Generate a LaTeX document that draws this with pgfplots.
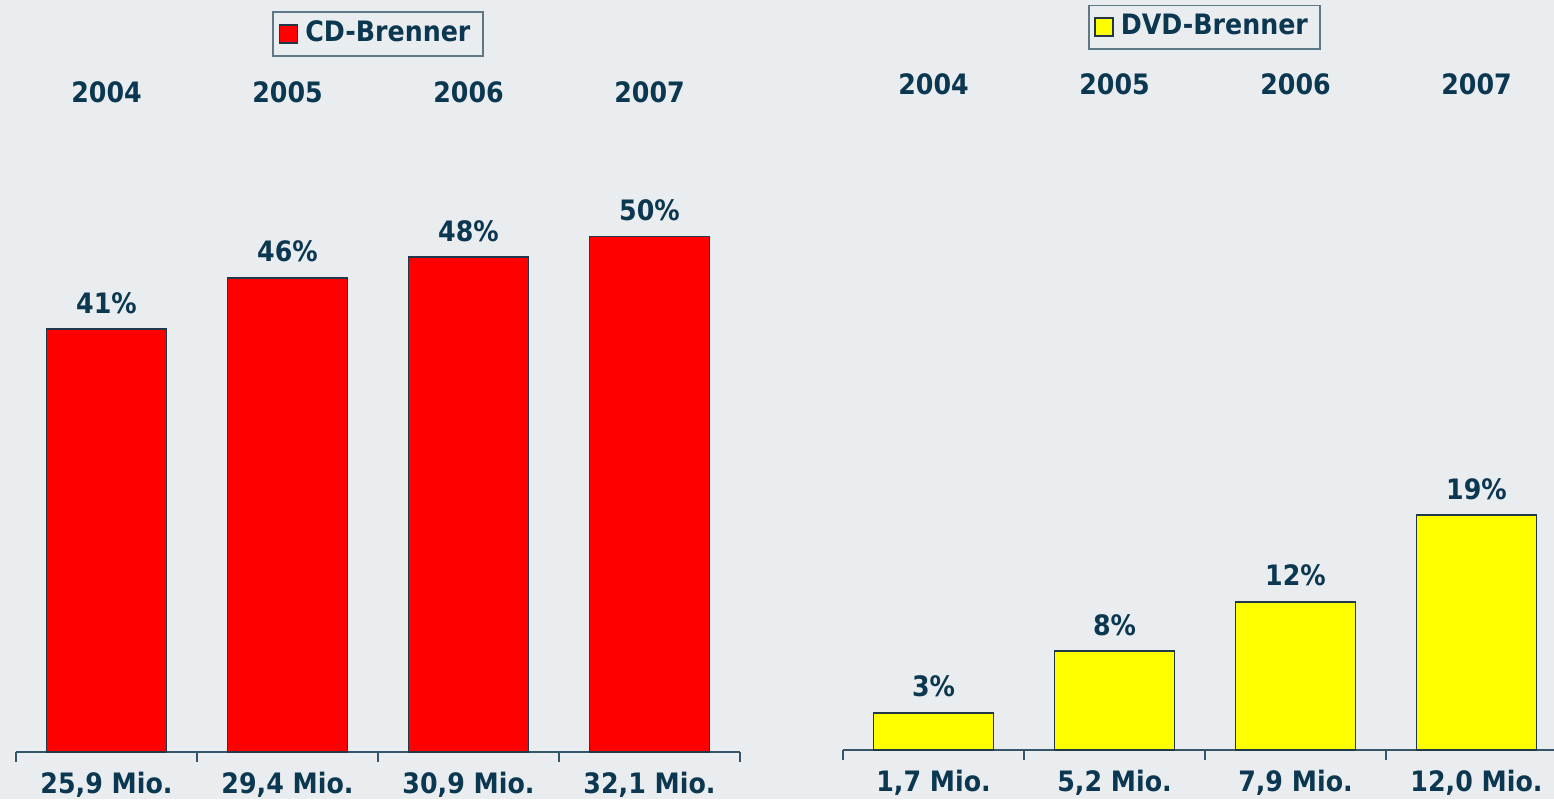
\documentclass[border=0pt]{standalone}
\usepackage{fontspec}
\setmainfont{DejaVu Sans}[FakeStretch=0.9]
\usepackage{pgfplots}
\pgfplotsset{compat=1.18}

\definecolor{bg}{RGB}{233,237,239}
\definecolor{ink}{RGB}{12,55,80}
\definecolor{axisline}{RGB}{55,85,105}
\definecolor{barline}{RGB}{35,55,75}
\definecolor{legline}{RGB}{95,120,135}
\definecolor{cdred}{RGB}{255,0,0}
\definecolor{dvdyellow}{RGB}{255,255,0}

\pgfplotsset{
  brenner/.style={
    scale only axis, width=7.24cm, height=6.12cm,
    anchor=south west, clip=false,
    ybar, bar width=1.2cm, ymin=0,
    xmin=-0.5, xmax=3.5,
    axis x line*=bottom, axis y line=none,
    axis line style={axisline, line width=0.6pt, -},
    xtick={0,1,2,3}, major tick length=0pt,
    minor xtick={-0.5,0.5,1.5,2.5,3.5}, minor tick length=0.095cm,
    tick align=outside,
    minor tick style={axisline, line width=0.6pt},
    xticklabel style={anchor=base, yshift=-0.41cm, text=ink},
    font=\fontsize{8}{9.5}\selectfont\bfseries,
    nodes near coords, point meta=explicit symbolic,
    every node near coord/.append style={anchor=base, yshift=0.16cm, inner sep=0pt, text=ink},
    legend image code/.code={\draw[#1] (0cm,-0.09cm) rectangle (0.18cm,0.09cm);},
    legend style={draw=legline, line width=0.5pt, fill=bg, text=ink, anchor=center,
      inner xsep=1.5pt, inner ysep=0.5pt, font=\fontsize{8}{9.5}\selectfont\bfseries},
  }
}

\begin{document}
\begin{tikzpicture}
\fill[bg] (0,0) rectangle (15.54,7.99);

% CD-Brenner
\begin{axis}[brenner, at={(0.16cm,0.47cm)}, ymax=59.36,
  xticklabels={25{,}9 Mio., 29{,}4 Mio., 30{,}9 Mio., 32{,}1 Mio.},
  legend style={at={(0.5,1.173)}}]
\addplot[fill=cdred, draw=barline, line width=0.5pt] coordinates {
  (0,41) [41\%] (1,46) [46\%] (2,48) [48\%] (3,50) [50\%]};
\legend{CD-Brenner}
\node[anchor=base, text=ink] at (axis cs:0,62.95) {2004};
\node[anchor=base, text=ink] at (axis cs:1,62.95) {2005};
\node[anchor=base, text=ink] at (axis cs:2,62.95) {2006};
\node[anchor=base, text=ink] at (axis cs:3,62.95) {2007};
\end{axis}

% DVD-Brenner
\begin{axis}[brenner, at={(8.43cm,0.49cm)}, ymax=49.55,
  xticklabels={1{,}7 Mio., 5{,}2 Mio., 7{,}9 Mio., 12{,}0 Mio.},
  legend style={at={(0.4993,1.181)}}]
\addplot[fill=dvdyellow, draw=barline, line width=0.5pt] coordinates {
  (0,3) [3\%] (1,8) [8\%] (2,12) [12\%] (3,19) [19\%]};
\legend{DVD-Brenner}
\node[anchor=base, text=ink] at (axis cs:0,53.04) {2004};
\node[anchor=base, text=ink] at (axis cs:1,53.04) {2005};
\node[anchor=base, text=ink] at (axis cs:2,53.04) {2006};
\node[anchor=base, text=ink] at (axis cs:3,53.04) {2007};
\end{axis}

\pgfresetboundingbox
\path (0,0) rectangle (15.54,7.99);
\end{tikzpicture}
\end{document}
